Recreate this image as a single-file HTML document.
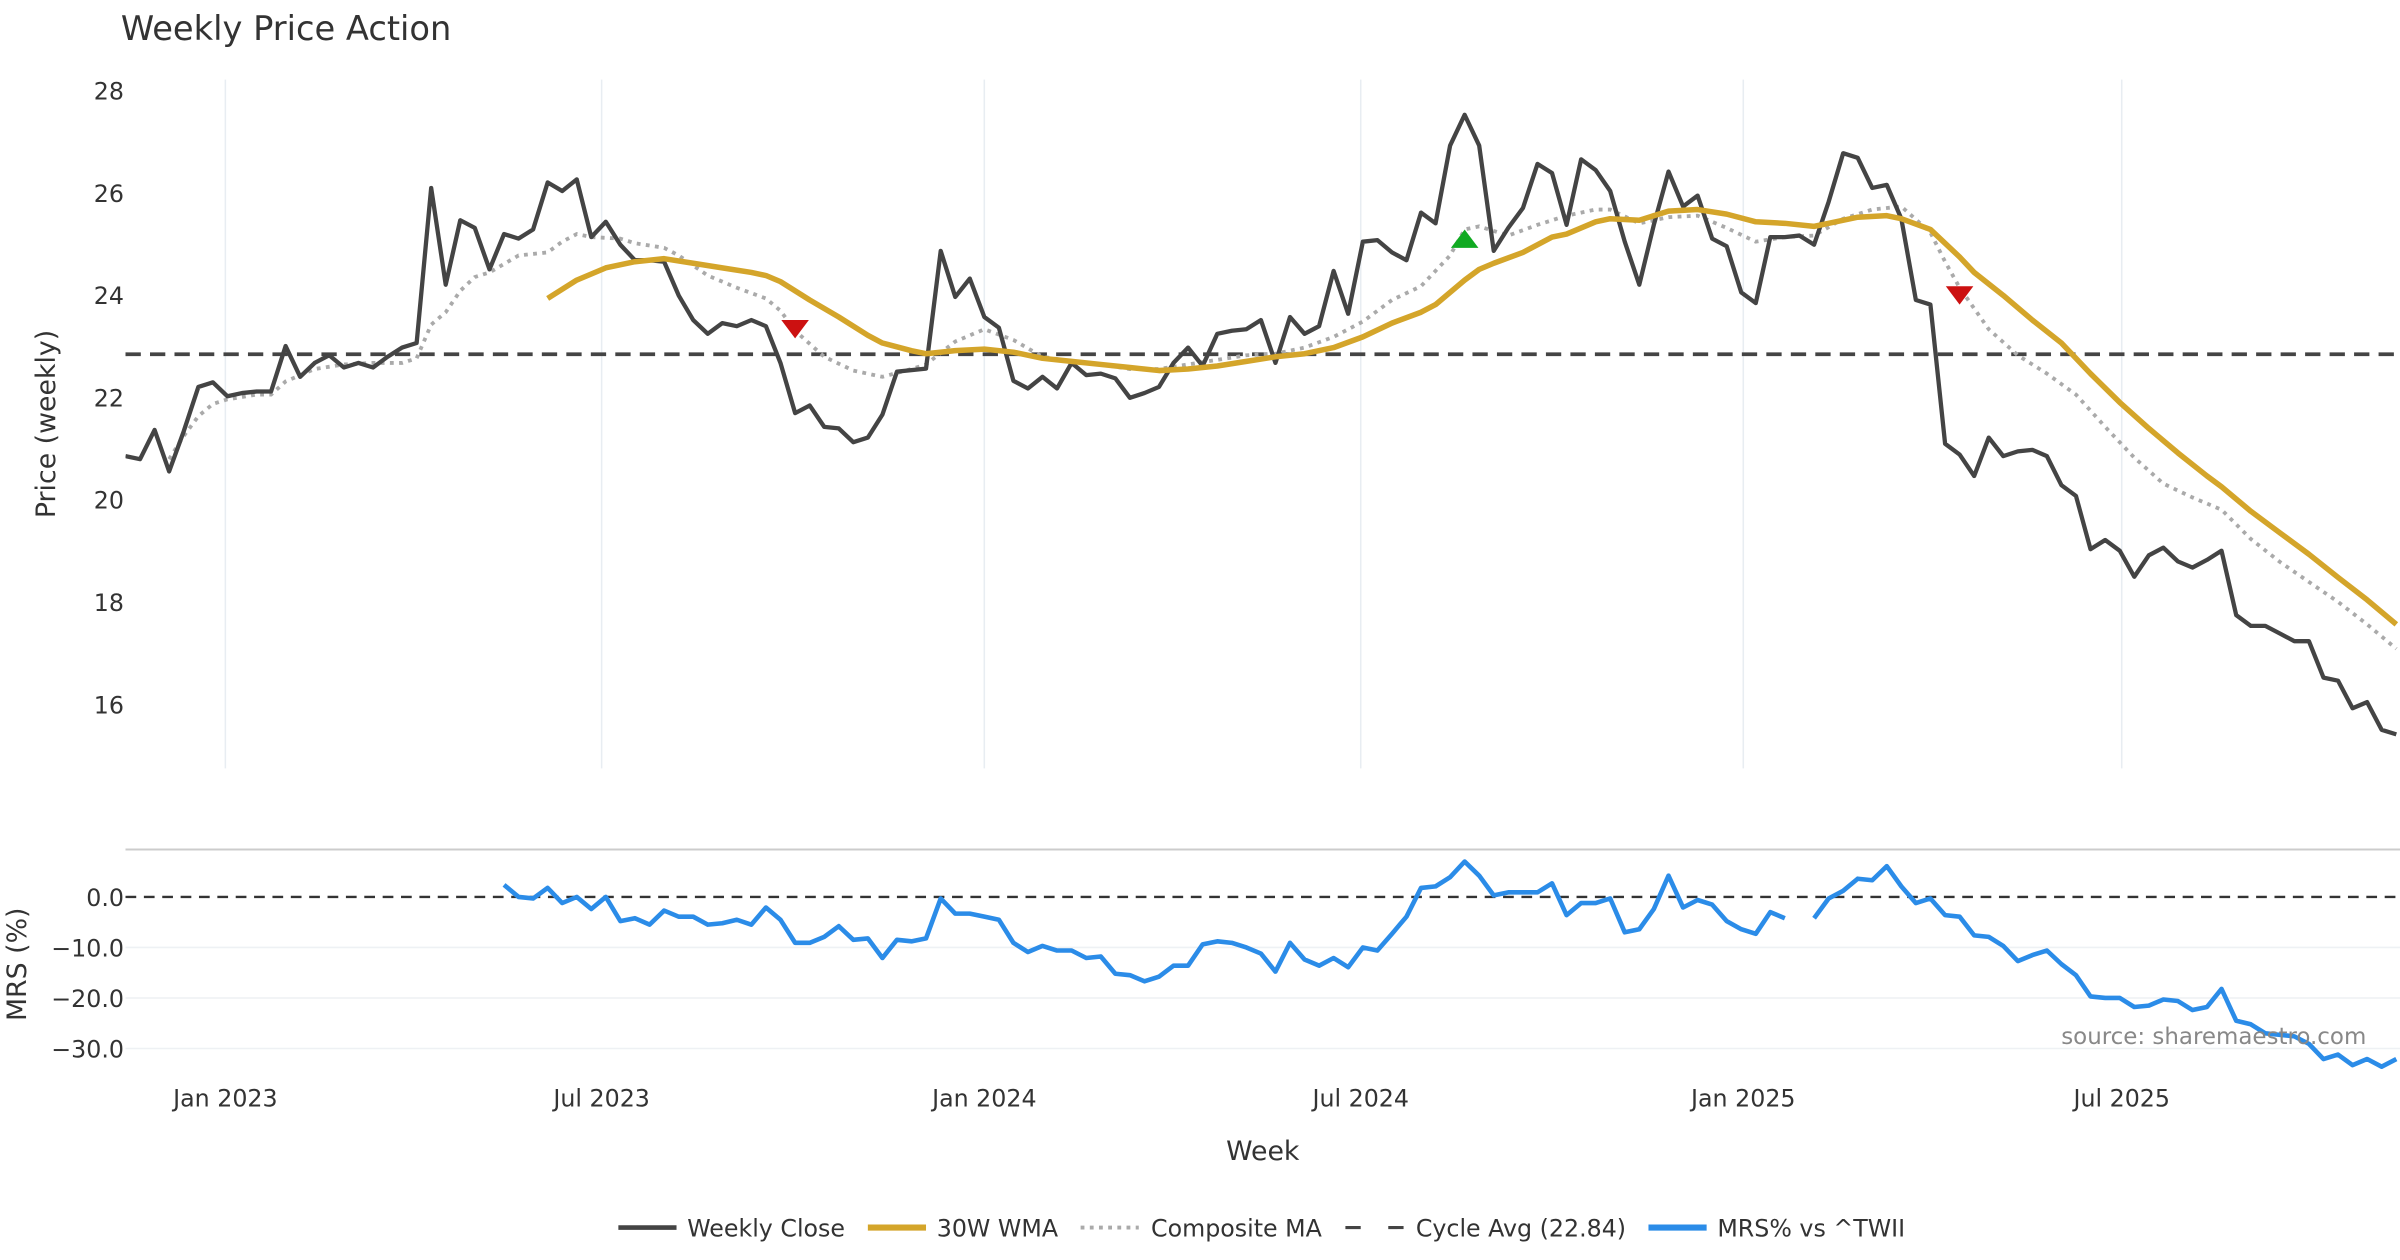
<!DOCTYPE html>
<html><head><meta charset="utf-8"><style>
html,body{margin:0;padding:0;background:#fff;}
svg{display:block;font-family:"DejaVu Sans","Liberation Sans",sans-serif;}
</style></head><body>
<svg id="chart" width="2400" height="1260" viewBox="0 0 1568 823.2" xmlns="http://www.w3.org/2000/svg">
<text x="79" y="26" font-size="22" fill="#333">Weekly Price Action</text>
<g id="grid"></g>
<g id="price"></g>
<g id="mrs"></g>
<text transform="translate(36,277) rotate(-90)" text-anchor="middle" font-size="17.5" fill="#333">Price (weekly)</text>
<text transform="translate(17,630) rotate(-90)" text-anchor="middle" font-size="17.5" fill="#333">MRS (%)</text>
<text x="825" y="758" text-anchor="middle" font-size="17.5" fill="#333">Week</text>
<text x="1546" y="682" text-anchor="end" font-size="15" fill="#888">source: sharemaestro.com</text>
<g id="legend">
<line x1="404" y1="802" x2="442" y2="802" stroke="#444" stroke-width="3"/><text x="449" y="808" font-size="15.5" fill="#333">Weekly Close</text>
<line x1="567" y1="802" x2="605" y2="802" stroke="#d4a52a" stroke-width="4"/><text x="612" y="808" font-size="15.5" fill="#333">30W WMA</text>
<line x1="706" y1="802" x2="744" y2="802" stroke="#aaa" stroke-width="2.5" stroke-dasharray="2.5,3.5"/><text x="752" y="808" font-size="15.5" fill="#333">Composite MA</text>
<line x1="879" y1="802" x2="917" y2="802" stroke="#444" stroke-width="2" stroke-dasharray="10,18"/><text x="925" y="808" font-size="15.5" fill="#333">Cycle Avg (22.84)</text>
<line x1="1077" y1="802" x2="1115" y2="802" stroke="#2b8ce8" stroke-width="4"/><text x="1122" y="808" font-size="15.5" fill="#333">MRS% vs ^TWII</text>
</g>
</svg>
<script>
const closeValues=[20.85,20.79,21.36,20.55,21.33,22.20,22.29,22.02,22.08,22.11,22.11,23.00,22.40,22.67,22.82,22.58,22.67,22.58,22.79,22.97,23.06,26.09,24.20,25.46,25.31,24.50,25.19,25.10,25.28,26.20,26.03,26.26,25.13,25.43,24.98,24.68,24.68,24.65,23.99,23.51,23.24,23.45,23.39,23.51,23.39,22.67,21.69,21.84,21.42,21.39,21.12,21.21,21.66,22.50,22.53,22.56,24.86,23.96,24.32,23.57,23.36,22.32,22.17,22.40,22.17,22.67,22.43,22.46,22.37,21.99,22.08,22.20,22.67,22.97,22.61,23.24,23.30,23.33,23.51,22.67,23.57,23.24,23.39,24.47,23.63,25.04,25.07,24.83,24.68,25.61,25.40,26.92,27.52,26.92,24.86,25.31,25.70,26.56,26.38,25.37,26.65,26.44,26.03,25.04,24.20,25.37,26.41,25.73,25.94,25.10,24.95,24.05,23.84,25.13,25.13,25.16,24.98,25.82,26.77,26.68,26.09,26.15,25.49,23.90,23.81,21.09,20.88,20.46,21.21,20.85,20.94,20.97,20.85,20.28,20.07,19.03,19.21,19.00,18.49,18.91,19.06,18.79,18.67,18.82,19.00,17.74,17.53,17.53,17.38,17.23,17.23,16.52,16.46,15.92,16.04,15.50,15.41];
const wmaWeeks=[29,31,33,35,37,39,41,43,44,45,47,49,51,52,54,55,57,59,61,63,65,67,69,71,73,75,77,79,81,83,85,87,89,90,92,93,94,96,98,99,101,102,104,106,108,110,112,114,116,117,119,121,122,124,126,127,129,131,133,135,137,139,141,143,144,146,148,150,152,154,156];
const wmaValues=[23.93,24.29,24.53,24.65,24.71,24.62,24.53,24.44,24.38,24.26,23.90,23.57,23.21,23.06,22.91,22.85,22.91,22.94,22.88,22.76,22.70,22.64,22.58,22.52,22.55,22.61,22.70,22.79,22.85,22.97,23.18,23.45,23.66,23.81,24.29,24.50,24.62,24.83,25.13,25.19,25.43,25.49,25.46,25.64,25.67,25.58,25.43,25.40,25.34,25.40,25.52,25.55,25.49,25.28,24.74,24.44,23.99,23.51,23.06,22.46,21.90,21.39,20.91,20.46,20.25,19.77,19.35,18.93,18.48,18.04,17.56];
const compWeeks=[3,4,5,6,7,9,10,11,13,15,17,19,20,21,22,23,24,25,27,29,30,31,32,34,35,37,38,40,42,44,45,46,48,50,52,54,55,57,59,61,63,65,67,69,71,73,75,77,79,81,83,85,87,89,91,92,93,95,97,99,101,102,104,106,108,110,112,114,116,118,120,122,124,125,126,128,130,132,134,136,138,140,142,144,146,148,150,152,154,156];
const compValues=[20.79,21.24,21.63,21.87,21.96,22.05,22.05,22.31,22.55,22.64,22.67,22.67,22.76,23.42,23.66,24.08,24.35,24.44,24.77,24.83,25.04,25.19,25.13,25.10,25.01,24.92,24.77,24.38,24.14,23.93,23.69,23.30,22.79,22.52,22.40,22.55,22.64,23.09,23.33,23.12,22.79,22.70,22.64,22.55,22.55,22.64,22.73,22.82,22.85,22.97,23.18,23.48,23.90,24.17,24.77,25.28,25.34,25.16,25.37,25.55,25.67,25.67,25.40,25.52,25.55,25.31,25.04,25.13,25.16,25.49,25.67,25.73,25.22,24.65,24.14,23.33,22.82,22.46,22.05,21.42,20.82,20.31,20.04,19.80,19.23,18.78,18.39,18.00,17.56,17.08];
const mrsStartWeek=26;
const mrsValues=[2.4,0,-0.3,1.8,-1.2,0,-2.4,0,-4.8,-4.2,-5.5,-2.7,-3.9,-3.9,-5.5,-5.2,-4.5,-5.5,-2.1,-4.5,-9.1,-9.1,-7.9,-5.8,-8.5,-8.2,-12.1,-8.5,-8.8,-8.2,-0.3,-3.3,-3.3,-3.9,-4.5,-9.1,-10.9,-9.7,-10.6,-10.6,-12.1,-11.8,-15.2,-15.5,-16.7,-15.8,-13.6,-13.6,-9.4,-8.8,-9.1,-10.0,-11.2,-14.8,-9.1,-12.4,-13.6,-12.1,-13.9,-10.0,-10.6,-7.3,-3.9,1.8,2.1,3.9,7.0,4.2,0.3,0.9,0.9,0.9,2.7,-3.6,-1.2,-1.2,-0.3,-7.0,-6.4,-2.4,4.2,-2.1,-0.6,-1.5,-4.8,-6.4,-7.3,-3.0,-4.2,null,-4.2,-0.3,1.2,3.6,3.3,6.1,2.1,-1.2,-0.3,-3.6,-3.9,-7.6,-7.9,-9.7,-12.7,-11.5,-10.6,-13.3,-15.5,-19.7,-20,-20,-21.8,-21.5,-20.3,-20.6,-22.4,-21.8,-18.2,-24.5,-25.2,-27,-27.3,-27.6,-29.1,-32.1,-31.2,-33.3,-32.1,-33.6,-32.1];
const cycleAvg=22.84;
const priceTicks=[16,18,20,22,24,26,28];
const mrsTicks=[0,-10,-20,-30];
const mrsTickLabels=["0.0","\u221210.0","\u221220.0","\u221230.0"];
const dateTickWeeks=[6.86,32.71,59,84.86,111.14,137.14];
const dateTickLabels=["Jan 2023","Jul 2023","Jan 2024","Jul 2024","Jan 2025","Jul 2025"];
const markerWeeks=[46,92,126];
const markerValues=[23.33,25.10,23.99];
const markerTypes=["sell","buy","sell"];

const NS="http://www.w3.org/2000/svg";
const X0=82,XSTEP=9.51;
function xS(w){return X0+w*XSTEP;}
function yP(v){return 59+(28-v)*33.42;}
function yM(v){return 586-v*3.3;}
function mk(tag,attrs,parent){const e=document.createElementNS(NS,tag);for(const k in attrs)e.setAttribute(k,attrs[k]);parent.appendChild(e);return e;}
const grid=document.getElementById('grid'),price=document.getElementById('price'),mrs=document.getElementById('mrs');
const clipD=mk('defs',{},grid);const cp=mk('clipPath',{id:'clip'},clipD);mk('rect',{x:82,y:40,width:1486,height:680},cp);
dateTickWeeks.forEach((w,i)=>{
 const l=mk('line',{x1:xS(w),x2:xS(w),y1:52,y2:502,stroke:'#e8edf2','stroke-width':1},grid);
 
 
 const t=mk('text',{x:xS(w),y:723,'text-anchor':'middle','font-size':15.5,fill:'#333'},grid);
 
 
 t.textContent=dateTickLabels[i];
});
priceTicks.forEach(v=>{
 const t=mk('text',{x:81,y:yP(v)+6,'text-anchor':'end','font-size':15.5,fill:'#333'},grid);
 
 
 t.textContent=v;
});
mrsTicks.forEach((v,i)=>{
 if(v!==0){const g=mk('line',{x1:82,x2:1568,y1:yM(v),y2:yM(v),stroke:'#eef1f4','stroke-width':1},grid);
 
 }
 const t=mk('text',{x:81,y:yM(v)+6,'text-anchor':'end','font-size':15.5,fill:'#333'},grid);
 
 
 t.textContent=mrsTickLabels[i];
});
const sep=mk('line',{x1:82,x2:1568,y1:555,y2:555,stroke:'#ccc','stroke-width':1.3},grid);


const ca=mk('line',{x1:82,x2:1568,y1:yP(cycleAvg),y2:yP(cycleAvg),stroke:'#444','stroke-width':2.5,'stroke-dasharray':'10,6'},price);


function pathFrom(ws,vs,yf){let d='',pen=false;vs.forEach((v,i)=>{if(v===null){pen=false;return;}d+=(pen?'L':'M')+xS(ws[i]).toFixed(1)+','+yf(v).toFixed(1);pen=true;});return d;}
const comp=mk('path',{d:pathFrom(compWeeks,compValues,yP),fill:'none',stroke:'#aaa','stroke-width':2.5,'stroke-dasharray':'2.5,3.5','clip-path':'url(#clip)'},price);


const cw=closeValues.map((v,i)=>i);
const cl=mk('path',{d:pathFrom(cw,closeValues,yP),fill:'none',stroke:'#444','stroke-width':2.8,'stroke-linejoin':'round','clip-path':'url(#clip)'},price);


const wm=mk('path',{d:pathFrom(wmaWeeks,wmaValues,yP),fill:'none',stroke:'#d4a52a','stroke-width':3.6,'stroke-linejoin':'round','clip-path':'url(#clip)'},price);


markerWeeks.forEach((w,i)=>{
 const x=xS(w),y=yP(markerValues[i]);
 const pts=markerTypes[i]==='sell'?`${x-9},${y-6} ${x+9},${y-6} ${x},${y+6}`:`${x-9},${y+6} ${x+9},${y+6} ${x},${y-6}`;
 const m=mk('polygon',{points:pts,fill:markerTypes[i]==='sell'?'#cc1111':'#11aa22'},price);
 
 
});
const z=mk('line',{x1:82,x2:1568,y1:yM(0),y2:yM(0),stroke:'#333','stroke-width':1.5,'stroke-dasharray':'7,5'},mrs);


const mw=mrsValues.map((v,i)=>mrsStartWeek+i);
const ml=mk('path',{d:pathFrom(mw,mrsValues,yM),fill:'none',stroke:'#2b8ce8','stroke-width':3,'stroke-linejoin':'round','clip-path':'url(#clip)'},mrs);


</script>
</body></html>
